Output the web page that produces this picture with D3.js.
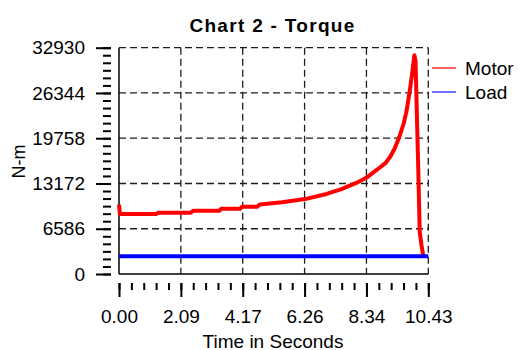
<!DOCTYPE html>
<html>
<head>
<meta charset="utf-8">
<script src="https://cdn.jsdelivr.net/npm/d3@7"></script>
<style>
html,body{margin:0;padding:0;background:#fff;}
svg{display:block;font-family:"Liberation Sans",Arial,sans-serif;}
</style>
</head>
<body>
<svg id="chart" width="518" height="350"></svg>
<script>
// ---- data ----
const chartTitle = "Chart 2 - Torque";
const xTitle = "Time in Seconds";
const yTitle = "N-m";
const seriesNames = ["Motor", "Load"];
const seriesColors = ["#ff0000", "#0000ff"];
const legendColors = ["#ff6060", "#7070ff"];
const xTicks = [0, 2.086, 4.172, 6.258, 8.344, 10.43];
const xTickLabels = ["0.00", "2.09", "4.17", "6.26", "8.34", "10.43"];
const yTicks = [0, 6586, 13172, 19758, 26344, 32930];
const yTickLabels = ["0", "6586", "13172", "19758", "26344", "32930"];
const motorTime = [0, 0.03, 1.25, 1.32, 2.42, 2.5, 3.38, 3.45, 4.08, 4.15, 4.66, 4.75, 5.5, 6.27, 7.0, 7.5, 8.0, 8.34, 8.6, 8.8, 9.0, 9.15, 9.3, 9.45, 9.6, 9.7, 9.8, 9.88, 9.96, 10.0, 10.04, 10.09, 10.14, 10.2, 10.26];
const motorTorque = [10100, 8720, 8720, 8910, 8910, 9200, 9200, 9490, 9490, 9780, 9780, 10130, 10450, 10900, 11650, 12350, 13250, 14000, 14850, 15500, 16200, 17100, 18300, 19900, 21900, 23800, 26500, 29000, 31840, 31000, 24000, 15600, 6150, 4200, 2600];
const loadTime = [0, 10.43];
const loadTorque = [2600, 2600];

// ---- layout ----
const svg = d3.select("#chart");
const W = 518, H = 350;
const L = 119, R = 428.3, T = 47.7, B = 274;
const x = d3.scaleLinear().domain([0, 10.43]).range([L, R]);
const y = d3.scaleLinear().domain([0, 32930]).range([B, T]);

svg.append("rect").attr("width", W).attr("height", H).attr("fill", "#fff");

// title
svg.append("text").attr("x", 272.5).attr("y", 31.5).attr("text-anchor", "middle")
  .attr("font-size", 19).attr("font-weight", "bold").attr("letter-spacing", 1.3)
  .text(chartTitle);

// grid
const grid = svg.append("g").attr("stroke", "#1e1e1e").attr("stroke-width", 1.3).attr("stroke-dasharray", "7,4");
grid.selectAll("line.h").data(yTicks.slice(1)).join("line").attr("class", "h")
  .attr("x1", L).attr("x2", R).attr("y1", d => y(d)).attr("y2", d => y(d));
grid.selectAll("line.v").data(xTicks.slice(1)).join("line").attr("class", "v")
  .attr("y1", T).attr("y2", B).attr("x1", d => x(d)).attr("x2", d => x(d));

// solid left & bottom frame
svg.append("line").attr("x1", L).attr("x2", L).attr("y1", T).attr("y2", B).attr("stroke", "#000").attr("stroke-width", 1.5);
svg.append("line").attr("x1", L).attr("x2", R).attr("y1", B).attr("y2", B).attr("stroke", "#000").attr("stroke-width", 1.5);

// y axis (detached)
const yMinor = d3.range(0, 31).map(i => 32930 * i / 30);
const yAxMinor = svg.append("g").attr("transform", "translate(111,0)")
  .call(d3.axisLeft(y).tickValues(yMinor).tickSize(8).tickFormat(""));
const yAxMajor = svg.append("g").attr("transform", "translate(111,0)")
  .call(d3.axisLeft(y).tickValues(yTicks).tickSize(15).tickPadding(11)
    .tickFormat((d, i) => yTickLabels[i]));
[yAxMinor, yAxMajor].forEach(g => {
  g.select(".domain").remove();
  g.selectAll("line").attr("stroke", "#000").attr("stroke-width", 2);
});
yAxMajor.selectAll("text").attr("font-size", 19).attr("fill", "#000")
  .attr("font-family", "Liberation Sans, Arial, sans-serif");

// x axis (detached)
const xMinor = d3.range(0, 26).map(i => 10.43 * i / 25);
const xAxMinor = svg.append("g").attr("transform", "translate(0,283)")
  .call(d3.axisBottom(x).tickValues(xMinor).tickSize(7).tickFormat(""));
const xAxMajor = svg.append("g").attr("transform", "translate(0,283)")
  .call(d3.axisBottom(x).tickValues(xTicks).tickSize(14).tickFormat((d, i) => xTickLabels[i]));
[xAxMinor, xAxMajor].forEach(g => {
  g.select(".domain").remove();
  g.selectAll("line").attr("stroke", "#000").attr("stroke-width", 2);
});
xAxMajor.selectAll("text").attr("font-size", 19).attr("fill", "#000")
  .attr("font-family", "Liberation Sans, Arial, sans-serif")
  .attr("y", 40).attr("dy", 0);

// axis titles
svg.append("text").attr("x", 273).attr("y", 347.5).attr("text-anchor", "middle")
  .attr("font-size", 19).text(xTitle);
svg.append("text").attr("transform", "translate(25,161.5) rotate(-90)")
  .attr("text-anchor", "middle").attr("font-size", 18).text(yTitle);

// series
const line = d3.line().x(d => x(d[0])).y(d => y(d[1]));
const motor = motorTime.map((t, i) => [t, motorTorque[i]]);
const load = loadTime.map((t, i) => [t, loadTorque[i]]);
svg.append("path").datum(motor).attr("d", line).attr("fill", "none")
  .attr("stroke", seriesColors[0]).attr("stroke-width", 4).attr("stroke-linejoin", "round");
svg.append("path").datum(load).attr("d", line).attr("fill", "none")
  .attr("stroke", seriesColors[1]).attr("stroke-width", 4);

// legend
const leg = svg.append("g");
seriesNames.forEach((n, i) => {
  const yy = 68 + i * 24;
  leg.append("line").attr("x1", 432).attr("x2", 456).attr("y1", yy).attr("y2", yy)
    .attr("stroke", legendColors[i]).attr("stroke-width", 2);
  leg.append("text").attr("x", 465).attr("y", yy + 7).attr("font-size", 19).text(n);
});
</script>
</body>
</html>
